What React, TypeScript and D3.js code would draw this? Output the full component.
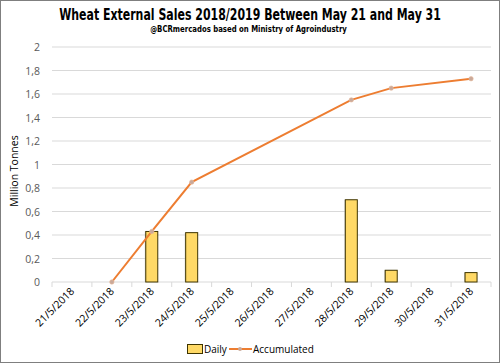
import React, { useLayoutEffect, useRef, useState } from "react";
import * as d3 from "d3";

const dates = ["21/5/2018", "22/5/2018", "23/5/2018", "24/5/2018", "25/5/2018", "26/5/2018", "27/5/2018", "28/5/2018", "29/5/2018", "30/5/2018", "31/5/2018"];
const daily: (number | null)[] = [null, null, 0.43, 0.42, null, null, null, 0.7, 0.1, null, 0.08];
const accumulated: (number | null)[] = [null, 0, 0.43, 0.85, null, null, null, 1.55, 1.65, null, 1.73];
const yTicks = [0, 0.2, 0.4, 0.6, 0.8, 1, 1.2, 1.4, 1.6, 1.8, 2];

const W = 500;
const H = 363;
const margin = { top: 47, right: 9, bottom: 81, left: 52 };

// squeezes a centred text horizontally to a given width
function FitText(props: { cx: number; y: number; width: number; size: number; font: string; weight?: string; children: string }) {
  const ref = useRef<SVGTextElement>(null);
  const [k, setK] = useState(1);
  useLayoutEffect(() => {
    if (ref.current) {
      const w = ref.current.getComputedTextLength();
      if (w > 0) setK(props.width / w);
    }
  }, [props.width]);
  return (
    <text
      ref={ref}
      transform={`translate(${props.cx},${props.y}) scale(${k},1)`}
      textAnchor="middle"
      fontFamily={props.font}
      fontWeight={props.weight || "bold"}
      fontSize={props.size}
      fill="#000"
    >
      {props.children}
    </text>
  );
}

export default function App() {
  const x = d3
    .scaleBand()
    .domain(dates)
    .range([margin.left, W - margin.right]);
  const y = d3
    .scaleLinear()
    .domain([0, 2])
    .range([H - margin.bottom, margin.top]);

  const fmt = (v: number) => String(v).replace(".", ",");
  const cx = (d: string) => (x(d) as number) + x.bandwidth() / 2;
  const barW = 12;

  const pts = dates
    .map((d, i) => ({ d, v: accumulated[i] }))
    .filter((p) => p.v !== null) as { d: string; v: number }[];
  const line = d3
    .line<{ d: string; v: number }>()
    .x((p) => cx(p.d))
    .y((p) => y(p.v));

  const axisY = y(0);
  const labelFont = "Open Sans, Liberation Sans, sans-serif";
  const titleFont = "DejaVu Sans Condensed, Liberation Sans, sans-serif";

  return (
    <svg width={W} height={H} style={{ position: "absolute", left: 0, top: 0 }}>
      <rect x={0.5} y={0.5} width={W - 1} height={H - 1} fill="#fff" stroke="#7f7f7f" />
      <FitText cx={250} y={20} width={382} size={16} font={titleFont}>
        Wheat External Sales 2018/2019 Between May 21 and May 31
      </FitText>
      <FitText cx={248.5} y={32} width={197} size={9.5} font={titleFont}>
        @BCRmercados based on Ministry of Agroindustry
      </FitText>

      {yTicks.map((t) => (
        <g key={t}>
          {t > 0 && (
            <line x1={margin.left} x2={W - margin.right} y1={y(t)} y2={y(t)} stroke="#d9d9d9" strokeWidth={1} />
          )}
          <text x={40} y={y(t) + 4} textAnchor="end" fontFamily={labelFont} fontSize={10.5} fill="#595959">
            {fmt(t)}
          </text>
        </g>
      ))}

      <text
        transform={`translate(18,171) rotate(-90)`}
        textAnchor="middle"
        fontFamily={labelFont}
        fontSize={10.5}
        fill="#000"
      >
        Million Tonnes
      </text>

      <line x1={margin.left} x2={W - margin.right} y1={axisY} y2={axisY} stroke="#d9d9d9" />
      {[...dates.map((d) => x(d) as number), W - margin.right].map((tx, i) => (
        <line key={i} x1={tx} x2={tx} y1={axisY} y2={axisY + 5} stroke="#d9d9d9" />
      ))}

      {dates.map((d) => (
        <text
          key={d}
          transform={`translate(${cx(d) + 3},${axisY + 10}) rotate(-45)`}
          textAnchor="end"
          fontFamily={labelFont}
          fontSize={10.5}
          fill="#000"
        >
          {d}
        </text>
      ))}

      {dates.map((d, i) =>
        daily[i] === null ? null : (
          <g key={d}>
            <rect x={cx(d) - barW / 2 - 1} y={y(daily[i] as number)} width={barW} height={axisY - y(daily[i] as number)} fill="#bfbfbf" opacity={0.7} />
            <rect x={cx(d) - barW / 2} y={y(daily[i] as number)} width={barW} height={axisY - y(daily[i] as number)} fill="#ffd966" stroke="#3f3500" strokeWidth={1} />
          </g>
        )
      )}

      <path d={line(pts) as string} fill="none" stroke="#ed7d31" strokeWidth={2} />
      {pts.map((p) => (
        <circle key={p.d} cx={cx(p.d)} cy={y(p.v)} r={2.2} fill="#c9a99a" stroke="#e8b89a" strokeWidth={0.6} />
      ))}

      <g transform="translate(0,349)">
        <rect x={187.5} y={-4.5} width={15} height={9} fill="#ffd966" stroke="#3f3500" />
        <text x={204} y={4} fontFamily={labelFont} fontSize={10} fill="#000">Daily</text>
        <line x1={229} x2={252} y1={0} y2={0} stroke="#ed7d31" strokeWidth={2} />
        <circle cx={240} cy={0} r={2} fill="#c9a99a" />
        <text x={253} y={4} fontFamily={labelFont} fontSize={10} fill="#000">Accumulated</text>
      </g>
    </svg>
  );
}
